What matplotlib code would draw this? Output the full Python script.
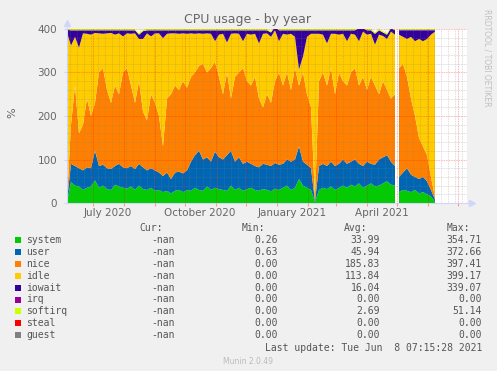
import matplotlib
matplotlib.use("Agg")
import numpy as np
import pandas as pd
import matplotlib.pyplot as plt
import matplotlib.dates as mdates
from matplotlib.patches import Rectangle

# --- data: 4-day samples, two segments (gap end of April 2021) ---
dates_a = pd.date_range("2020-06-05", periods=83, freq="4D")
dates_b = pd.date_range("2021-05-03", periods=10, freq="4D")

system_a = [3, 48, 40, 38, 30, 35, 38, 52, 35, 40, 32, 30, 42, 38, 35, 33, 38, 30, 40, 32,
            30, 35, 28, 30, 25, 28, 22, 28, 30, 25, 30, 28, 35, 30, 28, 38, 30, 35, 32, 30,
            28, 40, 30, 35, 28, 32, 35, 30, 28, 32, 30, 27, 33, 30, 35, 40, 30, 35, 55, 40,
            35, 30, 2, 30, 35, 32, 38, 30, 35, 40, 35, 42, 38, 45, 35, 40, 45, 38, 40, 45,
            50, 42, 40]
user_a = [3, 42, 45, 42, 45, 47, 42, 68, 50, 48, 48, 48, 43, 52, 47, 47, 47, 48, 50, 50,
          45, 45, 47, 40, 37, 42, 33, 42, 42, 43, 45, 67, 75, 90, 72, 67, 65, 83, 73, 70,
          82, 80, 65, 70, 62, 63, 55, 55, 54, 58, 58, 58, 59, 58, 55, 60, 65, 65, 75, 55,
          53, 50, 2, 55, 55, 53, 57, 55, 55, 60, 55, 53, 62, 45, 50, 55, 45, 50, 60, 60,
          60, 53, 45]
nice_a = [0, 90, 185, 80, 105, 158, 120, 110, 215, 222, 180, 152, 185, 160, 218, 230, 185, 152, 190, 128,
          115, 170, 155, 130, 68, 170, 195, 200, 188, 212, 190, 195, 190, 195, 220, 195, 215, 207, 185, 150,
          190, 120, 195, 195, 220, 185, 180, 205, 158, 130, 162, 145, 188, 212, 180, 200, 165, 210, 140, 205,
          162, 140, 4, 195, 210, 185, 215, 165, 210, 180, 180, 205, 210, 180, 205, 165, 200, 182, 150, 175,
          150, 145, 165]
idle_a = [386, 182, 112, 197, 210, 149, 187, 161, 90, 79, 130, 161, 117, 140, 83, 80, 119, 160, 97, 167,
          200, 133, 160, 190, 249, 149, 140, 120, 129, 110, 124, 100, 89, 75, 69, 90, 79, 47, 97, 139,
          69, 149, 100, 89, 62, 109, 117, 99, 127, 169, 140, 152, 117, 72, 119, 87, 129, 72, 37, 37,
          132, 169, 381, 109, 87, 97, 79, 139, 87, 109, 102, 89, 77, 102, 104, 127, 99, 94, 137, 104,
          117, 154, 137]
iowait_a = [6, 35, 15, 40, 7, 8, 10, 6, 7, 8, 7, 6, 10, 7, 14, 7, 8, 7, 10, 18,
            7, 14, 7, 7, 18, 8, 7, 7, 8, 7, 8, 7, 8, 7, 8, 7, 8, 25, 10, 8,
            28, 8, 7, 8, 25, 8, 10, 8, 30, 8, 7, 10, 8, 25, 8, 10, 8, 15, 90, 60,
            15, 8, 8, 8, 10, 30, 8, 8, 10, 8, 25, 8, 10, 30, 8, 10, 8, 25, 10, 8,
            10, 8, 10]
softirq_a = [2, 3, 3, 3, 3, 3, 3, 3, 3, 3, 3, 3, 3, 3, 3, 3, 3, 3, 3, 3,
             3, 3, 3, 3, 3, 3, 3, 3, 3, 3, 3, 3, 3, 3, 3, 3, 3, 3, 3, 3,
             3, 3, 3, 3, 3, 3, 3, 3, 3, 3, 3, 3, 3, 3, 3, 3, 3, 3, 3, 3,
             3, 3, 3, 3, 3, 3, 3, 3, 3, 3, 3, 3, 3, 3, 3, 3, 3, 3, 3, 3,
             3, 3, 3]

system_b = [25, 30, 28, 25, 30, 22, 25, 20, 15, 3]
user_b = [35, 40, 52, 40, 30, 33, 35, 30, 15, 5]
nice_b = [250, 250, 210, 175, 140, 95, 70, 60, 30, 4]
idle_b = [77, 62, 87, 142, 172, 227, 242, 267, 327, 382]
iowait_b = [10, 15, 20, 15, 25, 20, 25, 20, 10, 3]
softirq_b = [3, 3, 3, 3, 3, 3, 3, 3, 3, 3]

names = ["system", "user", "nice", "idle", "iowait", "irq", "softirq", "steal", "guest"]
colors = ["#00CC00", "#0066B3", "#FF8000", "#FFCC00", "#330099", "#990099", "#CCFF00", "#FF0000", "#808080"]
cur_vals = ["-nan"] * 9
min_vals = ["0.26", "0.63", "0.00", "0.00", "0.00", "0.00", "0.00", "0.00", "0.00"]
avg_vals = ["33.99", "45.94", "185.83", "113.84", "16.04", "0.00", "2.69", "0.00", "0.00"]
max_vals = ["354.71", "372.66", "397.41", "399.17", "339.07", "0.00", "51.14", "0.00", "0.00"]

W, H = 497, 371
FONT = "#666666"
plt.rcParams["font.family"] = "DejaVu Sans"

fig = plt.figure(figsize=(W / 100, H / 100), dpi=100, facecolor="#F0F0F0")
ax = fig.add_axes([67 / W, 1 - 203 / H, 400 / W, 174 / H], facecolor="white")


def stack(dates, s, u, n, i, io, sq):
    zero = [0] * len(dates)
    ax.stackplot(dates, s, u, n, i, io, zero, sq, zero, zero,
                 colors=colors, linewidth=0, zorder=1)


stack(dates_a, system_a, user_a, nice_a, idle_a, iowait_a, softirq_a)
stack(dates_b, system_b, user_b, nice_b, idle_b, iowait_b, softirq_b)

ax.set_xlim(pd.Timestamp("2020-06-05"), pd.Timestamp("2021-07-10"))
ax.set_ylim(0, 400)

# grid on top of the areas, rrdtool style
ax.set_yticks([0, 100, 200, 300, 400])
ax.set_yticks(np.arange(0, 401, 20), minor=True)
ax.xaxis.set_major_locator(mdates.MonthLocator(bymonthday=1))
ax.xaxis.set_minor_locator(mdates.WeekdayLocator(byweekday=mdates.MO))
ax.xaxis.set_major_formatter(plt.NullFormatter())
ax.grid(which="minor", color="#808080", alpha=0.35, linestyle=(0, (1, 1)), linewidth=0.6, zorder=3)
ax.grid(which="major", color="#FF0000", alpha=0.4, linestyle=(0, (1, 1)), linewidth=0.6, zorder=3)
ax.set_axisbelow(False)

ax.tick_params(axis="y", which="major", labelsize=7.5, labelcolor=FONT, color="#CFD6F8", length=2, pad=5)
ax.tick_params(axis="y", which="minor", length=0)
ax.tick_params(axis="x", which="both", length=2, color="#FF9999")
ax.tick_params(axis="x", which="minor", length=0)

for lbl_date, lbl in [("2020-07-16", "July 2020"), ("2020-10-16", "October 2020"),
                      ("2021-01-16", "January 2021"), ("2021-04-16", "April 2021")]:
    ax.text(mdates.date2num(pd.Timestamp(lbl_date)), -0.055, lbl, transform=ax.get_xaxis_transform(),
            ha="center", va="center", fontsize=7.5, color=FONT)

for side in ["top", "right"]:
    ax.spines[side].set_visible(False)
for side in ["left", "bottom"]:
    ax.spines[side].set_color("#CFD6F8")
    ax.spines[side].set_linewidth(0.8)
ax.plot([1.0, 1.01], [0, 0], color="#CFD6F8", lw=0.8, transform=ax.transAxes, clip_on=False)
ax.plot([1.012], [0], marker=">", ms=4, color="#CFD6F8", transform=ax.transAxes, clip_on=False)
ax.plot([0, 0], [1.0, 1.03], color="#CFD6F8", lw=0.8, transform=ax.transAxes, clip_on=False)
ax.plot([0], [1.035], marker="^", ms=4, color="#CFD6F8", transform=ax.transAxes, clip_on=False)


def fx(x):
    return x / W


def fy(y):
    return 1 - y / H


fig.text(fx(248), fy(20), "CPU usage - by year", ha="center", va="center", fontsize=9, color=FONT)
fig.text(fx(12), fy(113), "%", rotation=90, ha="center", va="center", fontsize=8, color=FONT)
fig.text(fx(487), fy(58), "RRDTOOL / TOBI OETIKER", rotation=270, ha="center", va="center",
         fontsize=5.5, color="#C0C0C0")

# legend table
mono = dict(family="DejaVu Sans Mono", fontsize=7, color="#555555", va="center")
for x, h in [(163, "Cur:"), (265, "Min:"), (367, "Avg:"), (470, "Max:")]:
    fig.text(fx(x), fy(228), h, ha="right", **mono)
for k, name in enumerate(names):
    y = 240 + k * 11.9
    fig.patches.append(Rectangle((fx(15), fy(y + 3)), 6 / W, 6 / H, transform=fig.transFigure,
                                 facecolor=colors[k], edgecolor="none"))
    fig.text(fx(26), fy(y), name, ha="left", **mono)
    fig.text(fx(175), fy(y), cur_vals[k], ha="right", **mono)
    fig.text(fx(278), fy(y), min_vals[k], ha="right", **mono)
    fig.text(fx(380), fy(y), avg_vals[k], ha="right", **mono)
    fig.text(fx(482), fy(y), max_vals[k], ha="right", **mono)
fig.text(fx(482), fy(348), "Last update: Tue Jun  8 07:15:28 2021", ha="right", **mono)
fig.text(fx(248), fy(361), "Munin 2.0.49", ha="center", va="center", fontsize=5.5, color="#BBBBBB")

fig.savefig("out.png", dpi=100, facecolor=fig.get_facecolor())
